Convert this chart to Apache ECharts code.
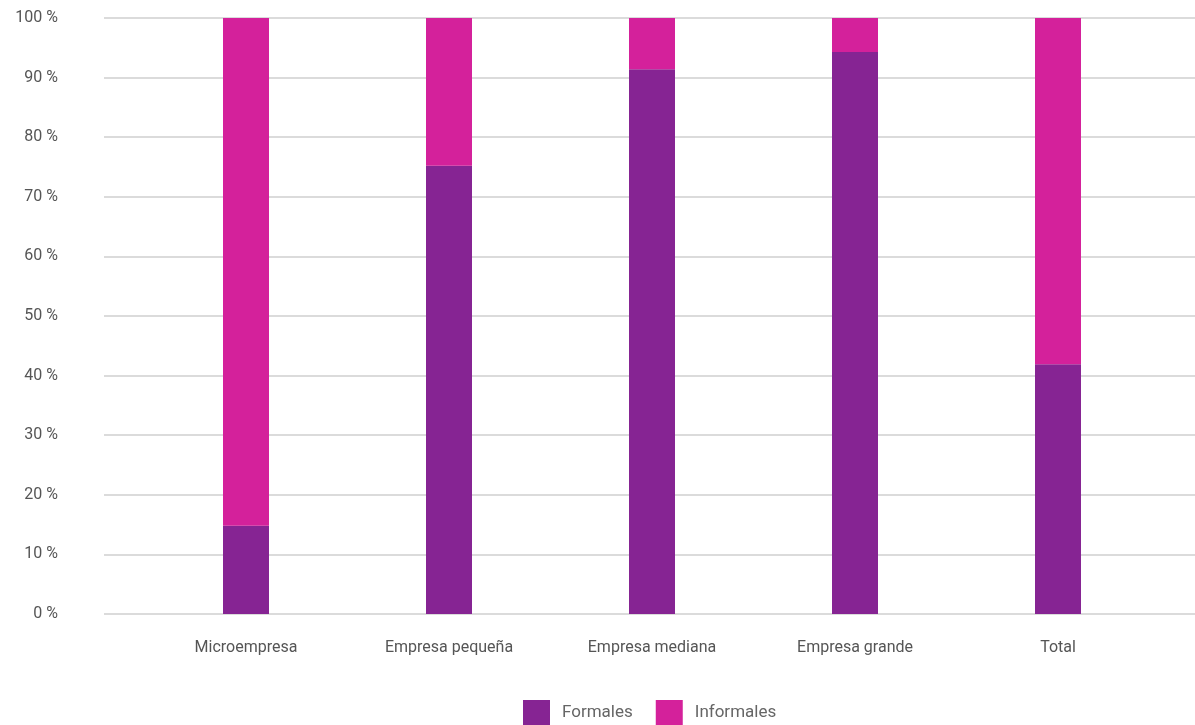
<!DOCTYPE html>
<html><head><meta charset="utf-8">
<script src="https://cdn.jsdelivr.net/npm/echarts@6/dist/echarts.min.js"></script>
<style>html,body{margin:0;padding:0;background:#fff}#c{width:1195px;height:725px}</style>
</head><body><div id="c"></div>
<script>
const categories = ['Microempresa', 'Empresa pequeña', 'Empresa mediana', 'Empresa grande', 'Total'];
const formales = [14.8, 75.2, 91.4, 94.3, 41.9];
const informales = [85.2, 24.8, 8.6, 5.7, 58.1];
const seriesNames = ['Formales', 'Informales'];

const chart = echarts.init(document.getElementById('c'));
const font = 'Roboto, "DejaVu Sans", sans-serif';
chart.setOption({
  animation: false,
  textStyle: { fontFamily: font },
  grid: [
    { left: 104, right: 0, top: 18, bottom: 111 },
    { left: 144.5, right: 35.5, top: 18, bottom: 111 }
  ],
  legend: {
    data: seriesNames,
    top: 700,
    left: 523,
    padding: 0,
    itemWidth: 27,
    itemHeight: 26,
    itemGap: 23,
    icon: 'rect',
    textStyle: { color: '#666', fontSize: 17, fontFamily: font, padding: [0, 0, 0, 7] }
  },
  xAxis: [
    { gridIndex: 0, type: 'category', data: categories, show: false },
    { gridIndex: 1, type: 'category', data: categories,
      axisLine: { show: false }, axisTick: { show: false },
      axisLabel: { color: '#555', fontSize: 16, margin: 26, fontFamily: font } }
  ],
  yAxis: [
    { gridIndex: 0, type: 'value', min: 0, max: 100, interval: 10,
      axisLine: { show: false }, axisTick: { show: false },
      axisLabel: { color: '#555', fontSize: 16, margin: 46, formatter: v => v + ' %', fontFamily: font },
      splitLine: { lineStyle: { color: '#cfcfcf', width: 1.5 } } },
    { gridIndex: 1, type: 'value', min: 0, max: 100, interval: 10, show: false,
      splitLine: { show: false } }
  ],
  series: [
    { name: seriesNames[0], type: 'bar', stack: 's', xAxisIndex: 1, yAxisIndex: 1,
      data: formales, barWidth: 46, itemStyle: { color: '#862493' } },
    { name: seriesNames[1], type: 'bar', stack: 's', xAxisIndex: 1, yAxisIndex: 1,
      data: informales, barWidth: 46, itemStyle: { color: '#D4219B' } }
  ]
});
</script></body></html>
